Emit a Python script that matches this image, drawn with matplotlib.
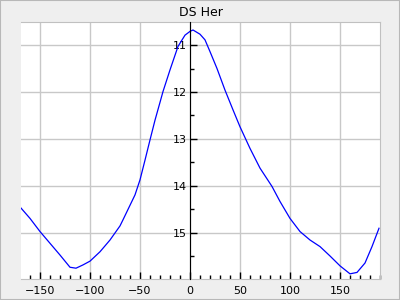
import matplotlib
matplotlib.use("Agg")
import matplotlib.pyplot as plt
from matplotlib.ticker import MultipleLocator
from matplotlib.patches import Rectangle

phase = [-169, -160, -150, -140, -130, -120, -114, -107, -100, -90, -80, -70, -67, -55,
         -50, -45, -40, -35, -30, -27, -20, -12, -5, 0, 3, 10, 15, 20, 27, 35, 43, 50,
         60, 70, 82, 90, 100, 110, 120, 130, 140, 150, 160, 167, 175, 182, 189]
mag = [14.47, 14.69, 14.97, 15.22, 15.47, 15.73, 15.75, 15.68, 15.60, 15.40, 15.15, 14.85, 14.72, 14.19,
       13.87, 13.45, 13.02, 12.60, 12.22, 11.99, 11.53, 11.03, 10.79, 10.71, 10.68, 10.77, 10.89, 11.14, 11.50, 11.96, 12.38, 12.74,
       13.20, 13.62, 14.01, 14.33, 14.69, 14.97, 15.15, 15.29, 15.49, 15.70, 15.87, 15.84, 15.64, 15.29, 14.90]
title = "DS Her"
xticks = [-150, -100, -50, 0, 50, 100, 150]
yticks = [11, 12, 13, 14, 15]

fig = plt.figure(figsize=(4, 3), dpi=100, facecolor="#efefef")
fig.patches.append(Rectangle((0, 0), 1, 1, transform=fig.transFigure, fill=False,
                             edgecolor="#b8b8b8", linewidth=1.5))
ax = fig.add_axes([21/400, 1-279/300, 359/400, 257/300])
ax.set_facecolor("white")
ax.plot(phase, mag, color="#0000ff", linewidth=0.9)
ax.set_xlim(-169, 190)
ax.set_ylim(15.98, 10.51)

ax.set_xticks(xticks)
ax.set_yticks(yticks)
ax.xaxis.set_minor_locator(MultipleLocator(10))
ax.yaxis.set_minor_locator(MultipleLocator(0.5))
ax.grid(True, which="major", color="#c8c8c8", linewidth=1)
ax.set_axisbelow(True)

for s in ["top", "right", "bottom"]:
    ax.spines[s].set_color("#c0c0c0")
ax.spines["left"].set_position(("data", 0))
ax.spines["left"].set_color("black")
ax.spines["left"].set_zorder(3)

ax.tick_params(axis="x", which="major", direction="in", length=5, width=1, labelsize=8, pad=5, color="black")
ax.tick_params(axis="x", which="minor", direction="in", length=3, width=1, color="black")
ax.tick_params(axis="y", which="major", direction="in", length=5, width=1, labelsize=8, pad=2, color="black")
ax.tick_params(axis="y", which="minor", direction="in", length=3, width=1, color="black")
ax.set_title(title, fontsize=9, pad=4)

fig.savefig("out.png", dpi=100, facecolor=fig.get_facecolor())
